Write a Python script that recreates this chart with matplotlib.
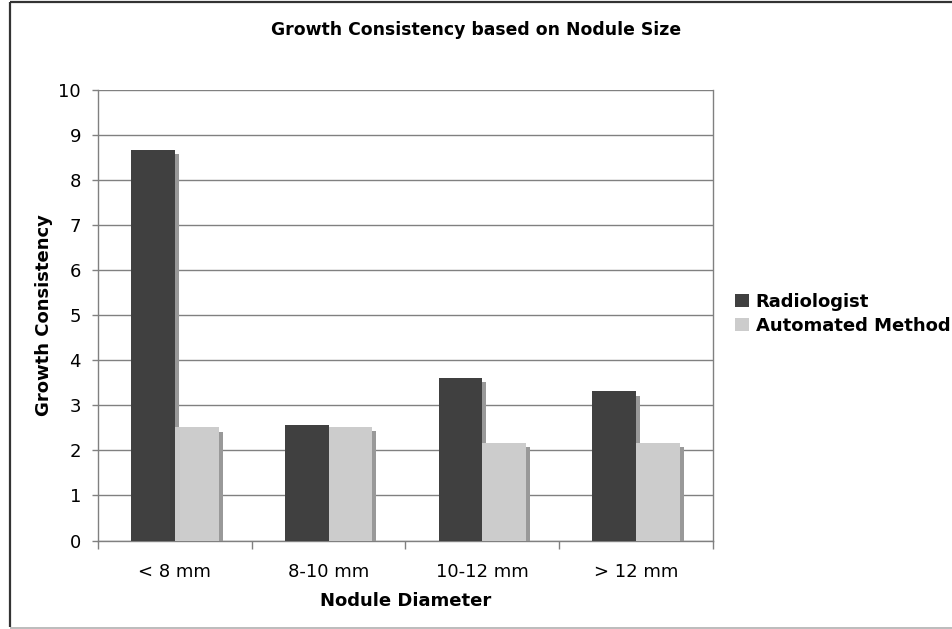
import matplotlib
matplotlib.use("Agg")
import matplotlib.pyplot as plt
import matplotlib.patheffects as pe
from matplotlib.lines import Line2D
import numpy as np

categories = ["< 8 mm", "8-10 mm", "10-12 mm", "> 12 mm"]
series_names = ["Radiologist", "Automated Method"]
radiologist = [8.68, 2.57, 3.60, 3.31]
automated = [2.51, 2.52, 2.17, 2.16]
y_ticks = list(range(0, 11))

W, H = 952, 629
fig = plt.figure(figsize=(W / 100, H / 100), dpi=100)
plt.rcParams["font.family"] = ["DejaVu Sans"]

ax = fig.add_axes([97.7 / W, 1 - 540.5 / H, (713.3 - 97.7) / W, (540.5 - 90.3) / H])

x = np.arange(len(categories))
bw = 0.285
shadow = [pe.SimplePatchShadow(offset=(2.9, -2.9), shadow_rgbFace="#999999", alpha=1.0), pe.Normal()]

ax.bar(x - bw / 2, radiologist, bw, color="#404040", zorder=3, path_effects=shadow,
       label=series_names[0])
ax.bar(x + bw / 2, automated, bw, color="#cccccc", zorder=3, path_effects=shadow,
       label=series_names[1])

ax.set_xlim(-0.5, len(categories) - 0.5)
ax.set_ylim(0, 10)
ax.set_yticks(y_ticks)
ax.yaxis.grid(True, color="#808080", linewidth=1.0, zorder=0)
ax.set_axisbelow(True)

# category labels sit between boundary ticks
ax.set_xticks(np.arange(-0.5, len(categories), 1.0))
ax.set_xticklabels([])
ax.set_xticks(x, minor=True)
ax.set_xticklabels(categories, minor=True, fontsize=13)
ax.tick_params(axis="x", which="minor", length=0, pad=16)
ax.tick_params(axis="x", which="major", length=5.5, color="#808080", width=1.0)
ax.tick_params(axis="y", length=4, color="#808080", width=1.0, labelsize=13, pad=8)

ax.spines["top"].set_visible(False)
for side in ["left", "bottom", "right"]:
    ax.spines[side].set_color("#808080")
    ax.spines[side].set_linewidth(1.0)

ax.set_xlabel("Nodule Diameter", fontsize=13, fontweight="bold", labelpad=8)
ax.set_ylabel("Growth Consistency", fontsize=13, fontweight="bold", labelpad=4)

fig.text(0.5, 1 - 30 / H, "Growth Consistency based on Nodule Size", ha="center", va="center",
         fontsize=12.4, fontweight="bold")

handles, labels = ax.get_legend_handles_labels()
leg = fig.legend(handles, labels, loc="center left", bbox_to_anchor=(735 / W, 1 - 314 / H),
                 frameon=False, borderpad=0, borderaxespad=0, handlelength=0.75, handleheight=0.75,
                 handletextpad=0.4, labelspacing=0.35, prop={"size": 13, "weight": "bold"})
for h in leg.legend_handles:
    h.set_path_effects([])

# outer frame of the chart area
fig.add_artist(Line2D([9.5 / W, 9.5 / W], [1 - 627 / H, 1 - 2 / H], transform=fig.transFigure,
                      color="#333333", linewidth=1.6, solid_capstyle="butt"))
fig.add_artist(Line2D([9.5 / W, 1.0], [1 - 2 / H, 1 - 2 / H], transform=fig.transFigure,
                      color="#333333", linewidth=1.6, solid_capstyle="butt"))
fig.add_artist(Line2D([9.5 / W, 1.0], [1 - 627.5 / H, 1 - 627.5 / H], transform=fig.transFigure,
                      color="#b0b0b0", linewidth=1.2, solid_capstyle="butt"))

fig.savefig("out.png", dpi=100)
